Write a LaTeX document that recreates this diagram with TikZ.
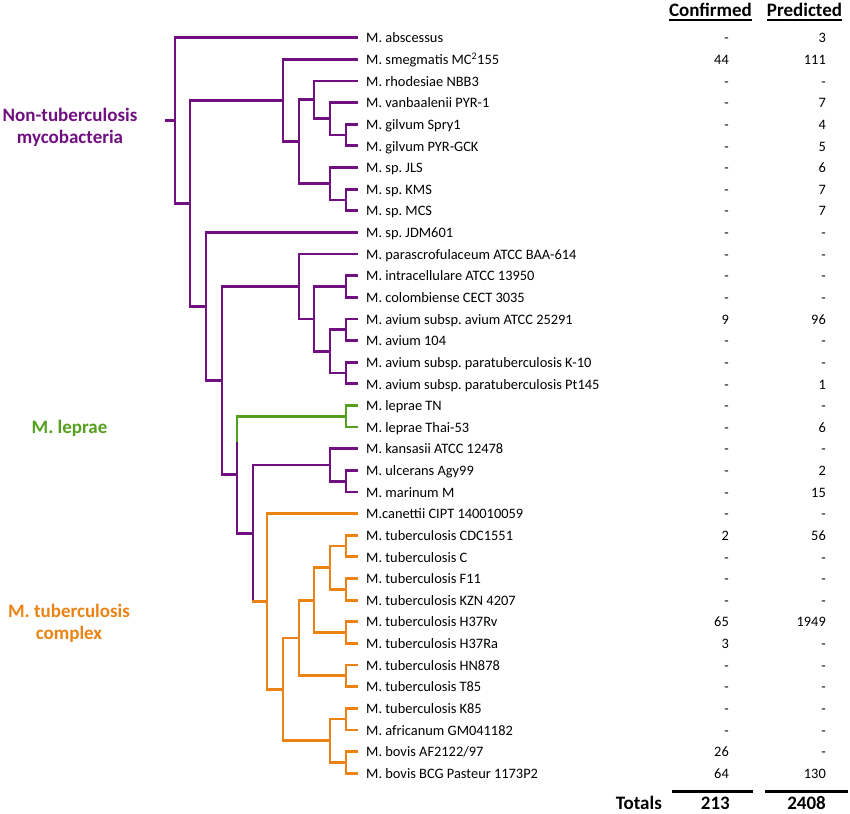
\documentclass[tikz,border=0pt]{standalone}
\usepackage{fontspec}
\setmainfont{Carlito}
\frenchspacing
\definecolor{ntmpurple}{RGB}{112,16,128}
\definecolor{leprgreen}{RGB}{84,160,30}
\definecolor{tbcorange}{RGB}{235,131,20}
\begin{document}
\begin{tikzpicture}[x=1pt,y=1pt,yscale=-1,
  branch/.style={line width=2.8pt},
  leaf/.style={anchor=west,inner xsep=8pt,inner ysep=0pt,text height=1.05em,text depth=0pt,font=\fontsize{14.4}{16}\selectfont},
  tally/.style={anchor=east,inner sep=0pt,text height=1.05em,text depth=0pt,font=\fontsize{14.4}{16}\selectfont},
  clade/.style={anchor=base,align=center,inner sep=0pt,font=\fontsize{19}{22}\selectfont\bfseries},
  colhead/.style={anchor=base,inner sep=0pt,text depth=0pt,font=\fontsize{19}{22}\selectfont\bfseries},
  underbar/.style={line width=2.2pt}]
\useasboundingbox (0,0) rectangle (850,813);
% leaves and counts
\node[leaf] (l0) at (358,37.7) {M. abscessus}; \node[tally] (c0) at (729,37.7) {-}; \node[tally] (p0) at (826,37.7) {3};
\node[leaf] (l1) at (358,59.3) {M. smegmatis MC\textsuperscript{2}155}; \node[tally] (c1) at (729,59.3) {44}; \node[tally] (p1) at (826,59.3) {111};
\node[leaf] (l2) at (358,81.0) {M. rhodesiae NBB3}; \node[tally] (c2) at (729,81.0) {-}; \node[tally] (p2) at (826,81.0) {-};
\node[leaf] (l3) at (358,102.6) {M. vanbaalenii PYR-1}; \node[tally] (c3) at (729,102.6) {-}; \node[tally] (p3) at (826,102.6) {7};
\node[leaf] (l4) at (358,124.2) {M. gilvum Spry1}; \node[tally] (c4) at (729,124.2) {-}; \node[tally] (p4) at (826,124.2) {4};
\node[leaf] (l5) at (358,145.9) {M. gilvum PYR-GCK}; \node[tally] (c5) at (729,145.9) {-}; \node[tally] (p5) at (826,145.9) {5};
\node[leaf] (l6) at (358,167.5) {M. sp. JLS}; \node[tally] (c6) at (729,167.5) {-}; \node[tally] (p6) at (826,167.5) {6};
\node[leaf] (l7) at (358,189.1) {M. sp. KMS}; \node[tally] (c7) at (729,189.1) {-}; \node[tally] (p7) at (826,189.1) {7};
\node[leaf] (l8) at (358,210.7) {M. sp. MCS}; \node[tally] (c8) at (729,210.7) {-}; \node[tally] (p8) at (826,210.7) {7};
\node[leaf] (l9) at (358,232.4) {M. sp. JDM601}; \node[tally] (c9) at (729,232.4) {-}; \node[tally] (p9) at (826,232.4) {-};
\node[leaf] (l10) at (358,254.0) {M. parascrofulaceum ATCC BAA-614}; \node[tally] (c10) at (729,254.0) {-}; \node[tally] (p10) at (826,254.0) {-};
\node[leaf] (l11) at (358,275.6) {M. intracellulare ATCC 13950}; \node[tally] (c11) at (729,275.6) {-}; \node[tally] (p11) at (826,275.6) {-};
\node[leaf] (l12) at (358,297.3) {M. colombiense CECT 3035}; \node[tally] (c12) at (729,297.3) {-}; \node[tally] (p12) at (826,297.3) {-};
\node[leaf] (l13) at (358,318.9) {M. avium subsp. avium ATCC 25291}; \node[tally] (c13) at (729,318.9) {9}; \node[tally] (p13) at (826,318.9) {96};
\node[leaf] (l14) at (358,340.5) {M. avium 104}; \node[tally] (c14) at (729,340.5) {-}; \node[tally] (p14) at (826,340.5) {-};
\node[leaf] (l15) at (358,362.2) {M. avium subsp. paratuberculosis K-10}; \node[tally] (c15) at (729,362.2) {-}; \node[tally] (p15) at (826,362.2) {-};
\node[leaf] (l16) at (358,383.8) {M. avium subsp. paratuberculosis Pt145}; \node[tally] (c16) at (729,383.8) {-}; \node[tally] (p16) at (826,383.8) {1};
\node[leaf] (l17) at (358,405.4) {M. leprae TN}; \node[tally] (c17) at (729,405.4) {-}; \node[tally] (p17) at (826,405.4) {-};
\node[leaf] (l18) at (358,427.0) {M. leprae Thai-53}; \node[tally] (c18) at (729,427.0) {-}; \node[tally] (p18) at (826,427.0) {6};
\node[leaf] (l19) at (358,448.7) {M. kansasii ATCC 12478}; \node[tally] (c19) at (729,448.7) {-}; \node[tally] (p19) at (826,448.7) {-};
\node[leaf] (l20) at (358,470.3) {M. ulcerans Agy99}; \node[tally] (c20) at (729,470.3) {-}; \node[tally] (p20) at (826,470.3) {2};
\node[leaf] (l21) at (358,491.9) {M. marinum M}; \node[tally] (c21) at (729,491.9) {-}; \node[tally] (p21) at (826,491.9) {15};
\node[leaf] (l22) at (358,513.6) {M.canettii CIPT 140010059}; \node[tally] (c22) at (729,513.6) {-}; \node[tally] (p22) at (826,513.6) {-};
\node[leaf] (l23) at (358,535.2) {M. tuberculosis CDC1551}; \node[tally] (c23) at (729,535.2) {2}; \node[tally] (p23) at (826,535.2) {56};
\node[leaf] (l24) at (358,556.8) {M. tuberculosis C}; \node[tally] (c24) at (729,556.8) {-}; \node[tally] (p24) at (826,556.8) {-};
\node[leaf] (l25) at (358,578.5) {M. tuberculosis F11}; \node[tally] (c25) at (729,578.5) {-}; \node[tally] (p25) at (826,578.5) {-};
\node[leaf] (l26) at (358,600.1) {M. tuberculosis KZN 4207}; \node[tally] (c26) at (729,600.1) {-}; \node[tally] (p26) at (826,600.1) {-};
\node[leaf] (l27) at (358,621.7) {M. tuberculosis H37Rv}; \node[tally] (c27) at (729,621.7) {65}; \node[tally] (p27) at (826,621.7) {1949};
\node[leaf] (l28) at (358,643.3) {M. tuberculosis H37Ra}; \node[tally] (c28) at (729,643.3) {3}; \node[tally] (p28) at (826,643.3) {-};
\node[leaf] (l29) at (358,665.0) {M. tuberculosis HN878}; \node[tally] (c29) at (729,665.0) {-}; \node[tally] (p29) at (826,665.0) {-};
\node[leaf] (l30) at (358,686.6) {M. tuberculosis T85}; \node[tally] (c30) at (729,686.6) {-}; \node[tally] (p30) at (826,686.6) {-};
\node[leaf] (l31) at (358,708.2) {M. tuberculosis K85}; \node[tally] (c31) at (729,708.2) {-}; \node[tally] (p31) at (826,708.2) {-};
\node[leaf] (l32) at (358,729.9) {M. africanum GM041182}; \node[tally] (c32) at (729,729.9) {-}; \node[tally] (p32) at (826,729.9) {-};
\node[leaf] (l33) at (358,751.5) {M. bovis AF2122/97}; \node[tally] (c33) at (729,751.5) {26}; \node[tally] (p33) at (826,751.5) {-};
\node[leaf] (l34) at (358,773.1) {M. bovis BCG Pasteur 1173P2}; \node[tally] (c34) at (729,773.1) {64}; \node[tally] (p34) at (826,773.1) {130};
% column heads and totals
\node[colhead] (hconf) at (710.5,17) {Confirmed};
\node[colhead] (hpred) at (804.5,17) {Predicted};
\draw[underbar] ([yshift=3pt]hconf.south west) -- ([yshift=3pt]hconf.south east);
\draw[underbar] ([yshift=3pt]hpred.south west) -- ([yshift=3pt]hpred.south east);
\draw[line width=3pt] (672,791) -- (753,791);
\draw[line width=3pt] (765,791) -- (848,791);
\node[colhead,anchor=base east] (totlabel) at (662,809) {Totals};
\node[colhead,anchor=base east] (totconf) at (730,809) {213};
\node[colhead,anchor=base east] (totpred) at (826,809) {2408};
% clade labels
\node[clade,text=ntmpurple] (ntm) at (70,144) {Non-tuberculosis\\mycobacteria};
\node[clade,text=leprgreen] (lep) at (69.5,433) {M. leprae};
\node[clade,text=tbcorange] (mtc) at (69,639) {M. tuberculosis\\complex};
% branch points
\coordinate (stub) at (165,120.6);
\coordinate (n0) at (175,120.6);
\coordinate (n1) at (190,203.6);
\coordinate (n2) at (283,100.6);
\coordinate (n3) at (299,141.8);
\coordinate (n4) at (314,99.9);
\coordinate (n5) at (330,118.8);
\coordinate (n6) at (346,135.0);
\coordinate (n7) at (330,183.7);
\coordinate (n8) at (346,199.9);
\coordinate (n9) at (206,306.5);
\coordinate (n10) at (222,380.6);
\coordinate (n11) at (299,286.5);
\coordinate (n12) at (314,318.9);
\coordinate (n13) at (346,286.4);
\coordinate (n14) at (330,351.4);
\coordinate (n15) at (346,329.7);
\coordinate (n16) at (346,373.0);
\coordinate (n17) at (237,474.7);
\coordinate (gbreak) at (237,442);
\coordinate (nlep) at (346,416.2);
\coordinate (n18) at (253,533.2);
\coordinate (n19) at (330,464.9);
\coordinate (n21) at (346,481.1);
\coordinate (n20) at (267,601.4);
\coordinate (n23) at (283,689.3);
\coordinate (n22) at (299,638.0);
\coordinate (n25) at (314,600.1);
\coordinate (nc) at (330,567.6);
\coordinate (na) at (346,546.0);
\coordinate (nb) at (346,589.3);
\coordinate (nh) at (346,632.5);
\coordinate (n26) at (346,675.8);
\coordinate (n24) at (330,740.7);
\coordinate (nd) at (346,719.0);
\coordinate (ne) at (346,762.3);
% tree
\draw[branch,ntmpurple] (stub) -- (n0) (n0) |- (l0.west) (n0) |- (n1)
  (n1) |- (n2) (n1) |- (n9)
  (n2) |- (l1.west) (n2) |- (n3)
  (n3) |- (n4) (n3) |- (n7)
  (n4) |- (l2.west) (n4) |- (n5)
  (n5) |- (l3.west) (n5) |- (n6)
  (n6) |- (l4.west) (n6) |- (l5.west)
  (n7) |- (l6.west) (n7) |- (n8)
  (n8) |- (l7.west) (n8) |- (l8.west)
  (n9) |- (l9.west) (n9) |- (n10)
  (n10) |- (n11) (n10) |- (n17)
  (n11) |- (l10.west) (n11) |- (n12)
  (n12) |- (n13) (n12) |- (n14)
  (n13) |- (l11.west) (n13) |- (l12.west)
  (n14) |- (n15) (n14) |- (n16)
  (n15) |- (l13.west) (n15) |- (l14.west)
  (n16) |- (l15.west) (n16) |- (l16.west)
  (n17) -- (gbreak) (n17) |- (n18)
  (n18) |- (n19) (n18) -- (n18 |- n20)
  (n19) |- (l19.west) (n19) |- (n21)
  (n21) |- (l20.west) (n21) |- (l21.west);
\draw[branch,leprgreen] (gbreak) |- (nlep)
  (nlep) |- (l17.west) (nlep) |- (l18.west);
\draw[branch,tbcorange,line cap=rect] (n18 |- n20) -- (n20);
\draw[branch,tbcorange] (n20) |- (l22.west) (n20) |- (n23)
  (n23) |- (n22) (n23) |- (n24)
  (n22) |- (n25) (n22) |- (n26)
  (n25) |- (nc) (n25) |- (nh)
  (nc) |- (na) (nc) |- (nb)
  (na) |- (l23.west) (na) |- (l24.west)
  (nb) |- (l25.west) (nb) |- (l26.west)
  (nh) |- (l27.west) (nh) |- (l28.west)
  (n26) |- (l29.west) (n26) |- (l30.west)
  (n24) |- (nd) (n24) |- (ne)
  (nd) |- (l31.west) (nd) |- (l32.west)
  (ne) |- (l33.west) (ne) |- (l34.west);
\end{tikzpicture}
\end{document}
